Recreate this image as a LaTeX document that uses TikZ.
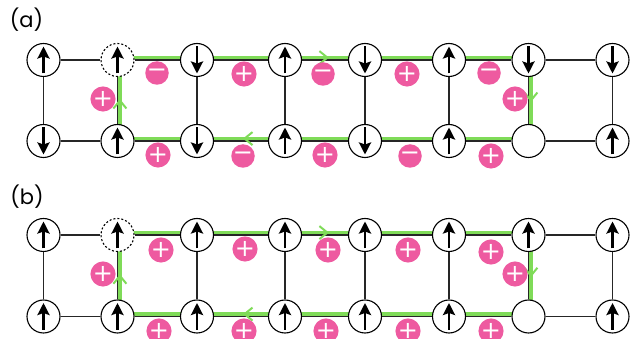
\documentclass[tikz,border=0pt]{standalone}
\usepackage{fontspec}
\setmainfont{Poppins}
\newfontfamily\signfont{DejaVu Sans}
\usetikzlibrary{arrows.meta,decorations.markings,backgrounds}
\definecolor{chainpink}{HTML}{EE5AA0}
\definecolor{chaingreen}{HTML}{7FDB58}
\tikzset{
  x=1pt,y=-1pt,
  site/.style={circle,draw=black,fill=white,line width=1.1pt,minimum size=33pt,inner sep=0pt},
  holesite/.style={site,dash pattern=on 2pt off 2pt},
  badge/.style={circle,fill=chainpink,text=white,minimum size=23.5pt,inner sep=0pt,font=\signfont\fontsize{24}{24}\selectfont},
  bond/.style={draw=black!85,line width=1.2pt},
  loopline/.style={draw=chaingreen,line width=3.4pt},
  looparrow/.style={postaction={decorate},decoration={markings,mark=at position #1 with {\draw[chaingreen,line width=2pt,solid] (-8pt,6.5pt) -- (0pt,0pt) -- (-8pt,-6.5pt);}}},
  spin/.style={line width=2.6pt,-{Stealth[length=12pt,width=12pt,inset=2pt]}},
  paneltitle/.style={anchor=center,inner sep=0pt,font=\fontsize{21}{21}\selectfont}
}
\newcommand{\spinup}[1]{\draw[spin] ([yshift=-13.5pt]#1.center) -- ([yshift=13.5pt]#1.center);}
\newcommand{\spindown}[1]{\draw[spin] ([yshift=13.5pt]#1.center) -- ([yshift=-13.5pt]#1.center);}
\begin{document}
\begin{tikzpicture}
\useasboundingbox (0,0) rectangle (638,339);

\node[paneltitle] (la) at (26.5,20) {(a)};
\node[paneltitle] (lb) at (27,197) {(b)};

% sites: panel / row
\foreach \p/\yt/\yb in {a/60/141,b/235/316.5}{
  \foreach \i/\x in {1/43.5,2/117.5,3/197,4/285,5/365,6/449,7/528.5,8/612.5}{
    \ifnum\i=2
      \node[holesite] (\p\i t) at (\x,\yt) {};
    \else
      \node[site] (\p\i t) at (\x,\yt) {};
    \fi
    \node[site] (\p\i b) at (\x,\yb) {};
  }
}

\begin{scope}[on background layer]
\foreach \p in {a,b}{
  % black bonds
  \foreach \i/\j in {1/2,2/3,3/4,4/5,5/6,6/7,7/8}{
    \draw[bond] (\p\i t) -- (\p\j t);
    \draw[bond] (\p\i b) -- (\p\j b);
  }
  \foreach \i in {1,2,3,4,5,6,7,8}{
    \draw[bond] (\p\i t) -- (\p\i b);
  }
  % green loop
  \foreach \i/\j in {2/3,3/4,5/6,6/7}{
    \draw[loopline] ([yshift=2.4pt]\p\i t.center) -- ([yshift=2.4pt]\p\j t.center);
  }
  \draw[loopline,looparrow=0.53] ([yshift=2.4pt]\p4t.center) -- ([yshift=2.4pt]\p5t.center);
  \foreach \i/\j in {7/6,6/5,5/4,3/2}{
    \draw[loopline] ([yshift=2.4pt]\p\i b.center) -- ([yshift=2.4pt]\p\j b.center);
  }
  \draw[loopline,looparrow=0.46] ([yshift=2.4pt]\p4b.center) -- ([yshift=2.4pt]\p3b.center);
  \draw[loopline,looparrow=0.5] ([xshift=2.4pt]\p7t.center) -- ([xshift=2.4pt]\p7b.center);
  \draw[loopline,looparrow=0.5] ([xshift=2.4pt]\p2b.center) -- ([xshift=2.4pt]\p2t.center);
}
\end{scope}

% spins, panel (a)
\foreach \n in {a1t,a2t,a4t,a6t,a2b,a4b,a6b,a8b}{\spinup{\n}}
\foreach \n in {a3t,a5t,a7t,a8t,a1b,a3b,a5b}{\spindown{\n}}
% spins, panel (b)
\foreach \n in {b1t,b2t,b3t,b4t,b5t,b6t,b7t,b8t,b1b,b2b,b3b,b4b,b5b,b6b,b8b}{\spinup{\n}}

% signs, panel (a)
\foreach \k/\x/\y/\s in {1/157/73/−,2/244/74/+,3/323/74/−,4/407/74/+,5/489/73/−,6/515/99/+,7/103/99/+,
  8/158/155/+,9/243/156/−,10/325/155/+,11/410/156/−,12/491/156/+}{
  \node[badge] (sa\k) at (\x,\y) {\s};
}
% signs, panel (b)
\foreach \k/\x/\y in {1/161/250,2/245/249,3/328/250,4/408/250,5/491/252,6/515/274,7/103/274,
  8/159/331,9/244/331,10/326/331,11/408/331,12/491/331}{
  \node[badge] (sb\k) at (\x,\y) {+};
}
\end{tikzpicture}
\end{document}
